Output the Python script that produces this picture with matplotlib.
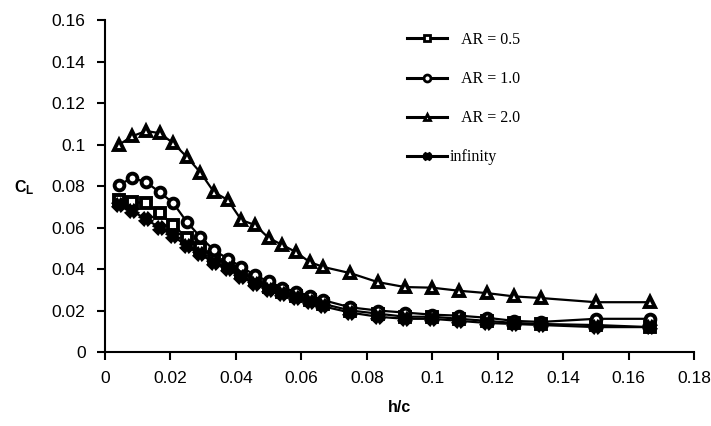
import numpy as np
import matplotlib
matplotlib.use("Agg")
import matplotlib.pyplot as plt

# h/c positions (multiples of 1/240)
steps = [1, 2, 3, 4, 5, 6, 7, 8, 9, 10, 11, 12, 13, 14, 15, 16,
         18, 20, 22, 24, 26, 28, 30, 32, 36, 40]
h_c = np.array(steps) / 240.0

cl_ar05 = [0.0733, 0.0723, 0.0718, 0.0670, 0.0612, 0.0550, 0.0500, 0.0458, 0.0420,
           0.0385, 0.0345, 0.0315, 0.0290, 0.0270, 0.0250, 0.0232, 0.0200, 0.0185,
           0.0170, 0.0170, 0.0160, 0.0150, 0.0140, 0.0135, 0.0130, 0.0120]
cl_ar10 = [0.0805, 0.0839, 0.0819, 0.0771, 0.0718, 0.0627, 0.0554, 0.0490, 0.0450,
           0.0410, 0.0370, 0.0340, 0.0310, 0.0290, 0.0270, 0.0250, 0.0215, 0.0200,
           0.0190, 0.0180, 0.0175, 0.0165, 0.0150, 0.0145, 0.0160, 0.0160]
cl_ar20 = [0.0998, 0.1040, 0.1065, 0.1055, 0.1007, 0.0940, 0.0865, 0.0770, 0.0733,
           0.0636, 0.0612, 0.0550, 0.0516, 0.0482, 0.0434, 0.0410, 0.0380, 0.0337,
           0.0313, 0.0310, 0.0295, 0.0284, 0.0268, 0.0260, 0.0240, 0.0240]
cl_inf = [0.0710, 0.0680, 0.0640, 0.0600, 0.0560, 0.0510, 0.0470, 0.0430, 0.0400,
          0.0360, 0.0330, 0.0300, 0.0280, 0.0260, 0.0240, 0.0220, 0.0190, 0.0170,
          0.0160, 0.0160, 0.0150, 0.0140, 0.0135, 0.0130, 0.0120, 0.0120]

labels = ["   AR = 0.5", "   AR = 1.0", "   AR = 2.0", "infinity"]
markers = ["s", "o", "^", "X"]

plt.rcParams["font.family"] = ["Liberation Sans", "DejaVu Sans"]

fig = plt.figure(figsize=(7.11, 4.26), dpi=100)
ax = fig.add_axes([0.1477, 0.1737, 0.8283, 0.7793])

for ys, m, lab in zip([cl_ar05, cl_ar10, cl_ar20, cl_inf], markers, labels):
    face = "black" if m == "X" else "white"
    ax.plot(h_c, ys, color="black", lw=1.6, marker=m, ms=7,
            mfc=face, mec="black", mew=2.8, label=lab)

ax.set_xlim(0, 0.18)
ax.set_ylim(0, 0.16)
ax.set_xticks(np.arange(0, 0.181, 0.02))
ax.set_yticks(np.arange(0, 0.161, 0.02))
ax.set_xticklabels(["0", "0.02", "0.04", "0.06", "0.08", "0.1", "0.12", "0.14", "0.16", "0.18"])
ax.set_yticklabels(["0", "0.02", "0.04", "0.06", "0.08", "0.1", "0.12", "0.14", "0.16"])
ax.tick_params(direction="out", length=6, width=1.5, labelsize=12.5)
ax.tick_params(axis="x", pad=8)
ax.tick_params(axis="y", pad=8)
for s in ["top", "right"]:
    ax.spines[s].set_visible(False)
for s in ["left", "bottom"]:
    ax.spines[s].set_linewidth(1.5)

ax.set_xlabel("h/c", fontsize=11.5, fontweight="bold", labelpad=10)
fig.text(0.020, 0.561, "C", fontsize=11.5, fontweight="bold", ha="left", va="center")
fig.text(0.036, 0.552, "L", fontsize=8.5, fontweight="bold", ha="left", va="center")

leg = ax.legend(loc="upper left", bbox_to_anchor=(0.572, 0.925),
                bbox_transform=fig.transFigure, frameon=False,
                prop={"family": "Liberation Serif", "size": 11.5},
                handlelength=2.5, handletextpad=0.2, labelspacing=1.45,
                borderpad=0, borderaxespad=0)
for h in leg.legend_handles:
    h.set_markersize(5)
    h.set_markeredgewidth(2)
    h.set_linewidth(2.2)

fig.savefig("out.png", dpi=100)
